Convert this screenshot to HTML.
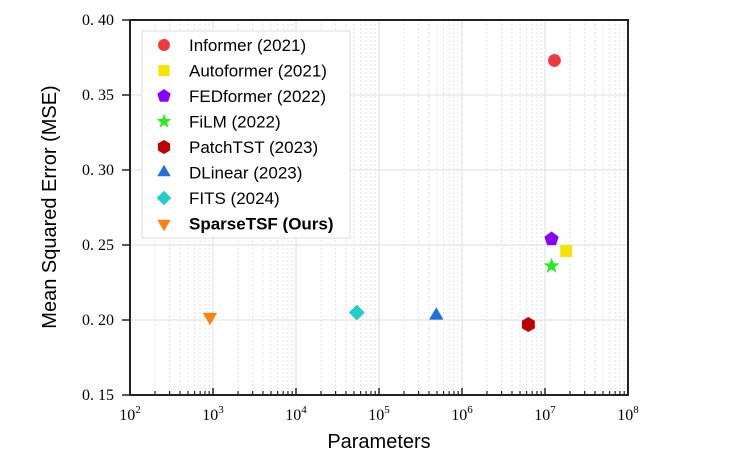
<!DOCTYPE html>
<html><head><meta charset="utf-8"><style>
body{margin:0;background:#fff;}
svg{display:block;}
</style></head><body>
<svg id="chart" width="744" height="455" xmlns="http://www.w3.org/2000/svg">
<g id="grid"></g>
<g id="ticks"></g>
<rect x="130" y="20" width="498" height="375" fill="none" stroke="#222" stroke-width="2"/>
<g id="legend"></g>
<g id="marks"></g>
<text x="379" y="448" font-family="Liberation Sans, sans-serif" font-size="20" text-anchor="middle">Parameters</text>
<text transform="translate(56,207) rotate(-90)" font-family="Liberation Sans, sans-serif" font-size="20" text-anchor="middle">Mean Squared Error (MSE)</text>
</svg>
<script>
const models=["Informer (2021)","Autoformer (2021)","FEDformer (2022)","FiLM (2022)","PatchTST (2023)","DLinear (2023)","FITS (2024)","SparseTSF (Ours)"];
const params=[1.3e7,1.8e7,1.2e7,1.2e7,6.3e6,4.9e5,5.4e4,920];
const mse=[0.373,0.246,0.254,0.236,0.197,0.203,0.205,0.202];
const colors=["#f0393c","#f5e400","#8a00ff","#22ee22","#c00000","#1f6fe0","#22cccc","#ff7f0e"];
const shapes=["circle","square","pentagon","star","hexagon","triangle","diamond","tridown"];
const yTicks=[0.15,0.20,0.25,0.30,0.35,0.40];
const xExps=[2,3,4,5,6,7,8];
const NS="http://www.w3.org/2000/svg";
const X0=130,X1=628,Y0=395,Y1=20;
const xs=v=>X0+(Math.log10(v)-2)/6*(X1-X0);
const ys=v=>Y0-(v-0.15)/0.25*(Y0-Y1);
function mk(t,a,p){const e=document.createElementNS(NS,t);for(const k in a)e.setAttribute(k,a[k]);p.appendChild(e);return e;}
const grid=document.getElementById('grid'),ticks=document.getElementById('ticks');
yTicks.forEach(v=>{
 const y=ys(v);
 const g=mk('line',{x1:X0,x2:X1,y1:y,y2:y,stroke:'#ddd','stroke-width':1},grid);
 
 
 mk('line',{x1:X0-8,x2:X0,y1:y,y2:y,stroke:'#222','stroke-width':1.5},ticks);
 const t=mk('text',{x:X0-16,y:y+5,'font-family':'Liberation Serif, serif','font-size':16,'text-anchor':'end'},ticks);
 t.textContent=v.toFixed(2).replace('.','. ');
 
 
});
xExps.forEach((e,i)=>{
 const x=xs(Math.pow(10,e));
 if(i>0&&i<xExps.length-1){mk('line',{x1:x,x2:x,y1:Y1,y2:Y0,stroke:'#ddd','stroke-width':1},grid);}
 mk('line',{x1:x,x2:x,y1:Y0-7,y2:Y0,stroke:'#222','stroke-width':1.5},ticks);
 if(i<xExps.length-1){for(let m=2;m<10;m++){const xm=xs(m*Math.pow(10,e));
  mk('line',{x1:xm,x2:xm,y1:Y1,y2:Y0,stroke:'#e4e4e4','stroke-width':1,'stroke-dasharray':'2,2'},grid);
  mk('line',{x1:xm,x2:xm,y1:Y0-4,y2:Y0,stroke:'#222','stroke-width':1.2},ticks);}}
 const t=mk('text',{x:x,y:Y0+25,'font-family':'Liberation Serif, serif','font-size':16,'text-anchor':'middle'},ticks);
 t.innerHTML='10<tspan dy="-7" font-size="11">'+e+'</tspan>';
 
 
});
function shape(s,cx,cy,r,c,p){
 let pts=[];
 if(s==='circle')return mk('circle',{cx,cy,r:r*0.85,fill:c},p);
 if(s==='square')return mk('rect',{x:cx-r*0.8,y:cy-r*0.8,width:r*1.6,height:r*1.6,fill:c},p);
 const poly=(n,rad,off,inner)=>{for(let k=0;k<n;k++){const a=off+k*2*Math.PI/n;const rr=inner&&k%2?inner:rad;pts.push((cx+rr*Math.cos(a)).toFixed(1)+','+(cy+rr*Math.sin(a)).toFixed(1));}};
 if(s==='pentagon')poly(5,r,-Math.PI/2);
 if(s==='hexagon')poly(6,r,-Math.PI/2);
 if(s==='star')poly(10,r*1.1,-Math.PI/2,r*0.45);
 if(s==='triangle'){poly(3,r*1.1,-Math.PI/2);}
 if(s==='tridown'){poly(3,r*1.1,Math.PI/2);}
 if(s==='diamond')poly(4,r*1.05,-Math.PI/2);
 return mk('polygon',{points:pts.join(' '),fill:c},p);
}
const marks=document.getElementById('marks');
models.forEach((m,i)=>{
 const e=shape(shapes[i],xs(params[i]),ys(mse[i]),7.5,colors[i],marks);
 
 
});
const lg=document.getElementById('legend');
const lb=mk('rect',{x:142,y:31,width:208,height:207,fill:'#fff',stroke:'#ddd','stroke-width':1},lg);


models.forEach((m,i)=>{
 const y=45+i*25.5;
 const g=mk('g',{},lg);
 
 
 shape(shapes[i],164,y,7,colors[i],g);
 const t=mk('text',{x:189,y:y+6,'font-family':'Liberation Sans, sans-serif','font-size':17,'font-weight':i===7?'bold':'normal'},g);
 t.textContent=m;
});
</script>
</body></html>
